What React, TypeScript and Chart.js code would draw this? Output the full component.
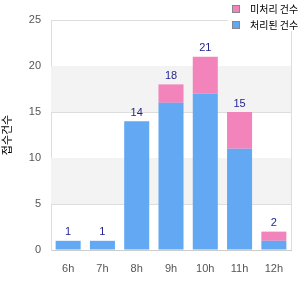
import React, { useEffect, useRef } from "react";
import { Chart, registerables } from "chart.js";
Chart.register(...registerables);

const categories = ["6h", "7h", "8h", "9h", "10h", "11h", "12h"];
const blueValues = [1, 1, 14, 16, 17, 11, 1];
const pinkValues = [0, 0, 0, 2, 4, 4, 1];
const totals = [1, 1, 14, 18, 21, 15, 2];
const pinkLabel = "미처리 건수";
const blueLabel = "처리된 건수";
const yTitle = "접수건수";
const bands = [[5, 10], [15, 20]];

const BLUE = "#62a8f2";
const PINK = "#f283bb";

export default function App() {
  const ref = useRef<HTMLCanvasElement>(null);
  useEffect(() => {
    const bandPlugin = {
      id: "bands",
      beforeDatasetsDraw(chart: any) {
        const { ctx, chartArea, scales } = chart;
        ctx.save();
        ctx.fillStyle = "#f3f3f3";
        for (const [a, b] of bands) {
          const y1 = scales.y.getPixelForValue(b);
          const y2 = scales.y.getPixelForValue(a);
          ctx.fillRect(chartArea.left, y1, chartArea.right - chartArea.left, y2 - y1);
        }
        ctx.restore();
      },
    };
    const overlay = {
      id: "overlay",
      afterDraw(chart: any) {
        const { ctx, chartArea, scales } = chart;
        ctx.save();
        ctx.strokeStyle = "#dddddd";
        ctx.lineWidth = 1;
        ctx.beginPath();
        ctx.moveTo(chartArea.right + 0.5, chartArea.top);
        ctx.lineTo(chartArea.right + 0.5, chartArea.bottom);
        ctx.stroke();
        ctx.fillStyle = "#1f1f8f";
        ctx.font = "11px 'Liberation Sans', Arial, sans-serif";
        ctx.textAlign = "center";
        ctx.textBaseline = "bottom";
        const meta = chart.getDatasetMeta(0);
        totals.forEach((t, i) => {
          const x = meta.data[i].x;
          const y = scales.y.getPixelForValue(t);
          ctx.fillText(String(t), x, y - 3);
        });
        ctx.fillStyle = "#ffffff";
        ctx.fillRect(228, 0, 72, 31);
        const items = [
          [PINK, pinkLabel],
          [BLUE, blueLabel],
        ];
        ctx.font = "10px 'Noto Sans CJK KR', sans-serif";
        ctx.textAlign = "left";
        ctx.textBaseline = "middle";
        items.forEach(([c, l], i) => {
          const y = 5 + i * 16;
          ctx.fillStyle = c;
          ctx.fillRect(232, y, 8, 8);
          ctx.strokeStyle = "#888888";
          ctx.strokeRect(232.5, y + 0.5, 7, 7);
          ctx.fillStyle = "#000000";
          ctx.fillText(l, 250, y + 4);
        });
        ctx.restore();
      },
    };
    const chart = new Chart(ref.current!, {
      type: "bar",
      data: {
        labels: categories,
        datasets: [
          { label: blueLabel, data: blueValues, backgroundColor: BLUE, barPercentage: 0.73, categoryPercentage: 1 },
          { label: pinkLabel, data: pinkValues, backgroundColor: PINK, barPercentage: 0.73, categoryPercentage: 1 },
        ],
      },
      options: {
        animation: false,
        responsive: false,
        layout: { padding: { top: 20, right: 9, left: 0, bottom: 0 } },
        plugins: { legend: { display: false }, tooltip: { enabled: false } },
        scales: {
          x: {
            stacked: true,
            grid: { display: false },
            border: { color: "#cccccc" },
            ticks: { color: "#555555", font: { size: 11, family: "'Liberation Sans', Arial, sans-serif" }, padding: 4 },
            afterFit: (s: any) => { s.height = 50; },
          },
          y: {
            stacked: true,
            min: 0,
            max: 25,
            ticks: { stepSize: 5, color: "#555555", padding: 10, font: { size: 11, family: "'Liberation Sans', Arial, sans-serif" } },
            grid: { color: "#dddddd", drawTicks: false },
            border: { color: "#dddddd" },
            title: { display: true, text: yTitle, color: "#000000", font: { size: 11, family: "'Noto Sans CJK KR', sans-serif" }, padding: 0 },
            afterFit: (s: any) => { s.width = 51; },
          },
        },
      },
      plugins: [bandPlugin, overlay],
    });
    return () => chart.destroy();
  }, []);
  return (
    <div style={{ position: "fixed", left: 0, top: 0, width: 300, height: 300, background: "#fff" }}>
      <canvas ref={ref} width={300} height={300} />
    </div>
  );
}
